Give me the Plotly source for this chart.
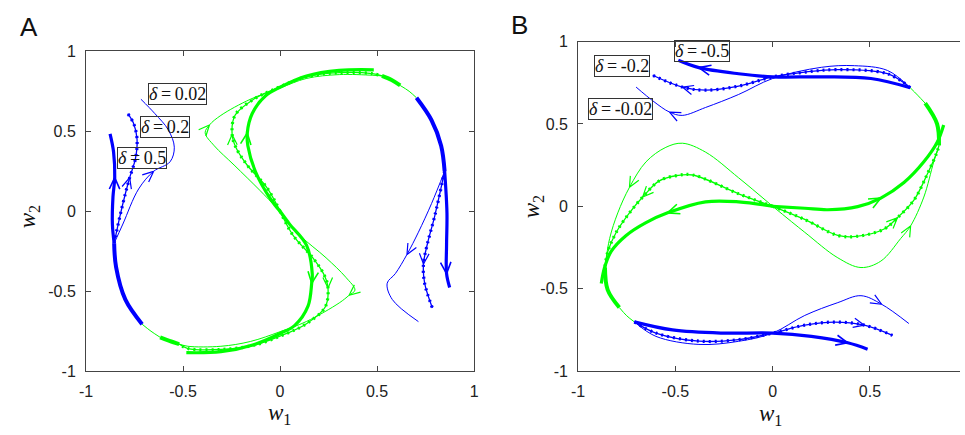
import math
import plotly.graph_objects as go

BLUE = "#0000ff"
GREEN = "#00ff00"

# ================= Panel A (delta = 0.5 thick, 0.2 dotted, 0.02 thin) =================
# green branch from the origin going up-left and over the top
A_up05_x = [0, -0.05, -0.127, -0.166, -0.169, -0.144, -0.076, 0.0, 0.136, 0.305, 0.483]
A_up05_y = [0, 0.078, 0.248, 0.409, 0.489, 0.609, 0.72, 0.775, 0.845, 0.88, 0.884]
A_up02_x = [0, -0.068, -0.17, -0.228, -0.247, -0.232, -0.136, -0.034, 0.136, 0.305, 0.475, 0.525]
A_up02_y = [0, 0.148, 0.289, 0.40, 0.48, 0.60, 0.70, 0.76, 0.84, 0.866, 0.86, 0.846]
A_up002_x = [0, -0.102, -0.237, -0.339, -0.386, -0.364, -0.305, -0.153, 0.0, 0.136, 0.305, 0.475, 0.525]
A_up002_y = [0, 0.128, 0.289, 0.409, 0.49, 0.539, 0.599, 0.70, 0.77, 0.83, 0.854, 0.85, 0.846]
A_shg_top_x = [0.525, 0.575, 0.619]
A_shg_top_y = [0.846, 0.82, 0.786]
A_thg_top_x = [0.619, 0.665, 0.703]
A_thg_top_y = [0.786, 0.75, 0.709]
A_shb_right_x = [0.703, 0.78, 0.83, 0.848]
A_shb_right_y = [0.709, 0.57, 0.41, 0.25]
A_r05_x = [0.848, 0.86, 0.858, 0.858, 0.874]
A_r05_y = [0.25, -0.01, -0.21, -0.39, -0.477]
A_r02_x = [0.848, 0.797, 0.760, 0.739, 0.745, 0.785]
A_r02_y = [0.25, -0.03, -0.20, -0.33, -0.45, -0.605]
A_r002_x = [0.848, 0.781, 0.713, 0.654, 0.594, 0.552, 0.578, 0.713]
A_r002_y = [0.25, 0.049, -0.131, -0.27, -0.39, -0.45, -0.551, -0.69]

# green branch from the origin going down-right and under the bottom
A_dn05_x = [0, 0.05, 0.136, 0.166, 0.163, 0.144, 0.076, 0.0, -0.136, -0.305, -0.483]
A_dn05_y = [0, -0.082, -0.212, -0.393, -0.45, -0.593, -0.713, -0.764, -0.834, -0.878, -0.884]
A_dn02_x = [0, 0.068, 0.17, 0.228, 0.247, 0.232, 0.136, 0.034, -0.136, -0.305, -0.475, -0.52]
A_dn02_y = [0, -0.152, -0.293, -0.40, -0.48, -0.60, -0.703, -0.764, -0.838, -0.864, -0.858, -0.83]
A_dn002_x = [0, 0.102, 0.237, 0.339, 0.386, 0.356, 0.305, 0.136, 0.0, -0.153, -0.305, -0.475, -0.52]
A_dn002_y = [0, -0.15, -0.291, -0.413, -0.493, -0.525, -0.573, -0.689, -0.753, -0.814, -0.844, -0.844, -0.83]
A_shg_bot_x = [-0.52, -0.57, -0.618]
A_shg_bot_y = [-0.83, -0.81, -0.788]
A_thg_bot_x = [-0.618, -0.665, -0.711]
A_thg_bot_y = [-0.788, -0.75, -0.706]
A_shb_left_x = [-0.711, -0.797, -0.845, -0.855]
A_shb_left_y = [-0.706, -0.553, -0.35, -0.2]
A_l05_x = [-0.855, -0.864, -0.861, -0.852, -0.858, -0.876]
A_l05_y = [-0.2, -0.08, 0.09, 0.21, 0.37, 0.483]
A_l02_x = [-0.855, -0.825, -0.795, -0.775, -0.745, -0.737, -0.755, -0.785]
A_l02_y = [-0.2, -0.03, 0.12, 0.21, 0.33, 0.45, 0.55, 0.61]
A_l002_x = [-0.855, -0.81, -0.729, -0.652, -0.567, -0.545, -0.576, -0.645, -0.717]
A_l002_y = [-0.2, -0.08, 0.139, 0.249, 0.309, 0.40, 0.509, 0.61, 0.70]

# ================= Panel B (delta = -0.5 thick, -0.2 dotted, -0.02 thin) =================
B_L05_x = [0, -0.175, -0.345, -0.54, -0.651, -0.753, -0.83, -0.864, -0.881]
B_L05_y = [0, 0.027, 0.027, -0.04, -0.099, -0.177, -0.274, -0.372, -0.469]
B_L02_x = [0, -0.175, -0.41, -0.49, -0.583, -0.668, -0.736, -0.804, -0.847, -0.862]
B_L02_y = [0, 0.076, 0.19, 0.187, 0.154, 0.056, -0.04, -0.158, -0.274, -0.37]
B_L002_x = [0, -0.175, -0.345, -0.464, -0.549, -0.651, -0.736, -0.796, -0.838, -0.862]
B_L002_y = [0, 0.173, 0.329, 0.383, 0.358, 0.27, 0.115, -0.04, -0.196, -0.37]
B_shg_L_x = [-0.862, -0.848, -0.788]
B_shg_L_y = [-0.37, -0.508, -0.615]
B_thg_L_x = [-0.788, -0.75, -0.711]
B_thg_L_y = [-0.615, -0.665, -0.702]
B_B05_x = [-0.711, -0.515, -0.26, 0.0, 0.199, 0.386, 0.488]
B_B05_y = [-0.702, -0.751, -0.77, -0.77, -0.79, -0.829, -0.868]
B_B02_x = [-0.711, -0.6, -0.379, -0.175, 0.0, 0.165, 0.318, 0.471, 0.616]
B_B02_y = [-0.702, -0.77, -0.819, -0.81, -0.77, -0.722, -0.703, -0.722, -0.784]
B_B002_x = [-0.711, -0.6, -0.379, -0.175, 0.0, 0.165, 0.335, 0.454, 0.56, 0.7]
B_B002_y = [-0.702, -0.79, -0.839, -0.82, -0.77, -0.663, -0.585, -0.543, -0.595, -0.712]

B_R05_x = [0, 0.165, 0.284, 0.437, 0.556, 0.675, 0.777, 0.845, 0.879]
B_R05_y = [0, -0.012, -0.021, -0.002, 0.05, 0.144, 0.27, 0.387, 0.494]
B_R02_x = [0, 0.165, 0.335, 0.43, 0.573, 0.641, 0.726, 0.794, 0.845, 0.855]
B_R02_y = [0, -0.08, -0.177, -0.183, -0.138, -0.07, 0.037, 0.193, 0.33, 0.37]
B_R002_x = [0, 0.165, 0.335, 0.454, 0.556, 0.658, 0.709, 0.777, 0.828, 0.855]
B_R002_y = [0, -0.158, -0.313, -0.372, -0.333, -0.196, -0.119, 0.056, 0.27, 0.37]
B_shg_R_x = [0.855, 0.845, 0.784]
B_shg_R_y = [0.37, 0.5, 0.626]
B_thg_R_x = [0.784, 0.745, 0.707]
B_thg_R_y = [0.626, 0.675, 0.72]
B_T05_x = [0.707, 0.505, 0.25, 0.0, -0.175, -0.379, -0.485]
B_T05_y = [0.72, 0.776, 0.786, 0.786, 0.805, 0.842, 0.887]
B_T02_x = [0.707, 0.59, 0.335, 0.165, 0.0, -0.175, -0.345, -0.464, -0.617]
B_T02_y = [0.72, 0.805, 0.83, 0.815, 0.786, 0.73, 0.705, 0.724, 0.796]
B_T002_x = [0.707, 0.59, 0.42, 0.25, 0.0, -0.175, -0.345, -0.465, -0.53, -0.61, -0.702]
B_T002_y = [0.72, 0.825, 0.854, 0.844, 0.776, 0.679, 0.60, 0.552, 0.572, 0.635, 0.724]

# tick labels and label texts
tick_vals = [-1, -0.5, 0, 0.5, 1]
tick_text = ["-1", "-0.5", "0", "0.5", "1"]
A_labels = ["0.02", "0.2", "0.5"]
B_labels = ["-0.5", "-0.2", "-0.02"]

# ================= drawing =================
W, H = 965, 435
fig = go.Figure()
AX_A = ("x", "y")
AX_B = ("x2", "y2")
A_SX, A_SY = 196.5, 166.5
B_SX, B_SY = 197.0, 171.3


def line(x, y, color, width, ax, dash=None, shape="spline"):
    fig.add_trace(go.Scatter(
        x=x, y=y, mode="lines",
        line=dict(color=color, width=width, shape=shape, smoothing=1.0, dash=dash),
        xaxis=ax[0], yaxis=ax[1], hoverinfo="skip", showlegend=False))


def curve(x, y, color, style, ax):
    if style == "thick":
        line(x, y, color, 3.2, ax)
    elif style == "shared":
        line(x, y, color, 4.0, ax)
    elif style == "dotted":
        line(x, y, color, 1.3, ax)
        line(x, y, color, 3.2, ax, dash="2px,4px")
    else:
        line(x, y, color, 1.0, ax)


def arrow(x, y, i, color, style, ax, sx, sy):
    dx = (x[i + 1] - x[i - 1]) * sx
    dy = (y[i + 1] - y[i - 1]) * sy
    n = math.hypot(dx, dy)
    ux, uy = dx / n, dy / n
    L = 13.0 if style == "thick" else 12.0
    ang = math.radians(24)
    wx, wy = [], []
    for s in (1, -1):
        c, si = math.cos(s * ang), math.sin(s * ang)
        bx = -(ux * c - uy * si)
        by = -(ux * si + uy * c)
        wx.append(x[i] + bx * L / sx)
        wy.append(y[i] + by * L / sy)
    w = 1.6 if style == "thick" else 1.2
    line([wx[0], x[i], wx[1]], [wy[0], y[i], wy[1]], color, w, ax, shape="linear")


# Panel A
for xs, ys, st, ai in [
    (A_up05_x, A_up05_y, "thick", 4), (A_up02_x, A_up02_y, "dotted", 4), (A_up002_x, A_up002_y, "thin", 5),
    (A_dn05_x, A_dn05_y, "thick", 4), (A_dn02_x, A_dn02_y, "dotted", 4), (A_dn002_x, A_dn002_y, "thin", 5),
]:
    curve(xs, ys, GREEN, st, AX_A)
    arrow(xs, ys, ai, GREEN, st, AX_A, A_SX, A_SY)
curve(A_shg_top_x, A_shg_top_y, GREEN, "shared", AX_A)
curve(A_thg_top_x, A_thg_top_y, GREEN, "thin", AX_A)
curve(A_shg_bot_x, A_shg_bot_y, GREEN, "shared", AX_A)
curve(A_thg_bot_x, A_thg_bot_y, GREEN, "thin", AX_A)
curve(A_shb_right_x, A_shb_right_y, BLUE, "shared", AX_A)
curve(A_shb_left_x, A_shb_left_y, BLUE, "shared", AX_A)
for xs, ys, st, ai in [
    (A_r05_x, A_r05_y, "thick", 3), (A_r02_x, A_r02_y, "dotted", 3), (A_r002_x, A_r002_y, "thin", 3),
    (A_l05_x, A_l05_y, "thick", 3), (A_l02_x, A_l02_y, "dotted", 3), (A_l002_x, A_l002_y, "thin", 3),
]:
    curve(xs, ys, BLUE, st, AX_A)
    arrow(xs, ys, ai, BLUE, st, AX_A, A_SX, A_SY)

# Panel B
for xs, ys, st, ai in [
    (B_L05_x, B_L05_y, "thick", 3), (B_L02_x, B_L02_y, "dotted", 5), (B_L002_x, B_L002_y, "thin", 6),
    (B_R05_x, B_R05_y, "thick", 4), (B_R02_x, B_R02_y, "dotted", 5), (B_R002_x, B_R002_y, "thin", 6),
]:
    curve(xs, ys, GREEN, st, AX_B)
    arrow(xs, ys, ai, GREEN, st, AX_B, B_SX, B_SY)
curve(B_shg_L_x, B_shg_L_y, GREEN, "shared", AX_B)
curve(B_thg_L_x, B_thg_L_y, GREEN, "thin", AX_B)
curve(B_shg_R_x, B_shg_R_y, GREEN, "shared", AX_B)
curve(B_thg_R_x, B_thg_R_y, GREEN, "thin", AX_B)
for xs, ys, st, ai in [
    (B_B05_x, B_B05_y, "thick", 5), (B_B02_x, B_B02_y, "dotted", 7), (B_B002_x, B_B002_y, "thin", 8),
    (B_T05_x, B_T05_y, "thick", 5), (B_T02_x, B_T02_y, "dotted", 7), (B_T002_x, B_T002_y, "thin", 8),
]:
    curve(xs, ys, BLUE, st, AX_B)
    arrow(xs, ys, ai, BLUE, st, AX_B, B_SX, B_SY)

# axes
tickfont = dict(family="Liberation Sans, Arial", size=16, color="#222")
common = dict(showgrid=False, zeroline=False, showline=True, linecolor="#444", linewidth=1,
              ticks="inside", ticklen=5, tickcolor="#444", tickvals=tick_vals, ticktext=tick_text,
              tickfont=tickfont)

fig.update_layout(
    width=W, height=H, margin=dict(l=0, r=0, t=0, b=0),
    paper_bgcolor="white", plot_bgcolor="white", showlegend=False,
    xaxis=dict(domain=[80 / W, 473 / W], range=[-1, 1], mirror="ticks", anchor="y",
               ticklabelstandoff=6, **common),
    yaxis=dict(domain=[1 - 378 / H, 1 - 45 / H], range=[-1, 1], mirror="ticks", anchor="x",
               ticklabelstandoff=6, **common),
    xaxis2=dict(domain=[578.3 / W, 1.0], range=[-1, -1 + (W - 578.3) / B_SX], mirror="ticks", anchor="y2",
                ticklabelstandoff=6, **common),
    yaxis2=dict(domain=[1 - 377.7 / H, 1 - 35 / H], range=[-1, 1], mirror=False, anchor="x2",
                ticklabelstandoff=6, **common),
)

ann = []
serif = "Liberation Serif, Times New Roman"


def px_ann(text, px, py, size, family, angle=0, border=False):
    d = dict(text=text, x=px / W, y=1 - py / H, xref="paper", yref="paper",
             xanchor="center", yanchor="middle", showarrow=False, textangle=angle,
             font=dict(family=family, size=size, color="#111"))
    if border:
        d.update(bordercolor="#333", borderwidth=1, borderpad=0)
    ann.append(d)


px_ann("A", 22, 20, 26, "Liberation Sans, Arial")
px_ann("B", 519, 18, 26, "Liberation Sans, Arial")
px_ann("<i>w</i><sub>1</sub>", 276, 422, 23, serif)
px_ann("<i>w</i><sub>2</sub>", 22, 217, 23, serif, angle=-90)
px_ann("<i>w</i><sub>1</sub>", 773, 424, 23, serif)
px_ann("<i>w</i><sub>2</sub>", 533, 207, 23, serif, angle=-90)

for lab, (cx, cy) in zip(A_labels, [(172.2, 89), (160.3, 124.2), (137.2, 156.2)]):
    px_ann("<i>δ</i>\u2009=\u2009" + lab, cx, cy, 18, serif, border=True)
for lab, (cx, cy) in zip(B_labels, [(703.8, 45), (622.5, 60.5), (621.3, 105.5)]):
    px_ann("<i>δ</i>\u2009=\u2009" + lab, cx, cy, 18, serif, border=True)

fig.update_layout(annotations=ann)

fig.write_html("out.html", config={"displayModeBar": False},
               post_script="document.body.style.margin='0';document.body.style.overflow='hidden';")
